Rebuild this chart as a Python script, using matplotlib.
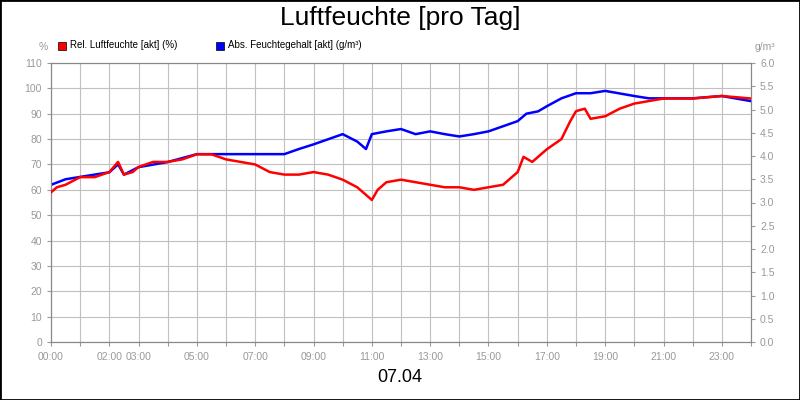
import matplotlib
matplotlib.use("Agg")
import matplotlib.pyplot as plt
from matplotlib.patches import Rectangle
plt.rcParams['font.family'] = ['Liberation Sans', 'DejaVu Sans']

rel_t = [0,0.2,0.5,1,1.5,2,2.3,2.5,2.8,3,3.5,4,4.5,5,5.5,6,6.5,7,7.5,8,8.5,9,9.5,10,10.5,10.8,11,11.2,11.5,12,12.5,13,13.5,14,14.5,15,15.5,16,16.2,16.5,17,17.5,17.8,18,18.3,18.5,19,19.5,20,20.5,21,22,23,24]
rel_v = [59,61,62,65,65,67,71,66,67,69,71,71,72,74,74,72,71,70,67,66,66,67,66,64,61,58,56,60,63,64,63,62,61,61,60,61,62,67,73,71,76,80,87,91,92,88,89,92,94,95,96,96,97,96]
abs_t = [0,0.5,1,2,2.3,2.5,3,4,5,6,7,8,8.5,9,9.5,10,10.5,10.8,11,11.5,12,12.5,13,13.5,14,14.5,15,15.5,16,16.3,16.7,17,17.5,18,18.5,19,20,20.5,21,22,23,24]
abs_v = [3.38,3.5,3.55,3.65,3.82,3.6,3.76,3.87,4.04,4.04,4.04,4.04,4.15,4.25,4.36,4.47,4.31,4.15,4.47,4.53,4.58,4.47,4.53,4.47,4.42,4.47,4.53,4.64,4.75,4.91,4.96,5.07,5.24,5.35,5.35,5.4,5.29,5.24,5.24,5.24,5.29,5.18]
xtick_pos = [0,2,3,5,7,9,11,13,15,17,19,21,23]
xtick_lab = ["00:00","02:00","03:00","05:00","07:00","09:00","11:00","13:00","15:00","17:00","19:00","21:00","23:00"]

fig = plt.figure(figsize=(8,4), dpi=100)
fig.patches.append(Rectangle((0,0),1,1,transform=fig.transFigure,fill=False,edgecolor='black',lw=2))
ax = fig.add_axes([51/800, 58/400, 700/800, 279/400])
ax.set_xlim(0,24); ax.set_ylim(0,110)
ax.set_yticks(range(0,111,10))
ax.set_xticks(range(0,25))
ax.set_xticklabels([""]*25)
for p,l in zip(xtick_pos, xtick_lab):
    ax.text(p, -4, l, ha='center', va='top', fontsize=7.5, color='#999999')
ax.grid(True, color='#c0c0c0', lw=0.8)
ax.tick_params(colors='#999999', labelsize=7.5, length=3)
ax2 = ax.twinx()
ax2.plot(abs_t, abs_v, color='#0000ff', lw=1.8)
ax2.set_ylim(0,6); ax2.set_yticks([i*0.5 for i in range(13)])
ax2.set_yticklabels([f"{i*0.5:.1f}" for i in range(13)])
ax2.tick_params(colors='#999999', labelsize=7.5, length=3)
ax3 = ax.twinx()
ax3.set_ylim(0,110); ax3.axis('off')
ax3.plot(rel_t, rel_v, color='#ff0000', lw=1.8)
for a in (ax, ax2):
    for s in a.spines.values(): s.set_color('#888888')
fig.text(0.5, 0.955, "Luftfeuchte [pro Tag]", ha='center', va='center', fontsize=19)
fig.text(0.5, 0.055, "07.04", ha='center', va='center', fontsize=13)
fig.text(43/800, 0.882, "%", ha='center', va='center', fontsize=7.5, color='#999999')
fig.text(765/800, 0.882, "g/m³", ha='center', va='center', fontsize=7.5, color='#999999')
fig.patches.append(Rectangle((58/800, 0.875), 8/800, 8/400, transform=fig.transFigure, facecolor='red', edgecolor='black', lw=0.5))
fig.text(70/800, 0.887, "Rel. Luftfeuchte [akt] (%)", va='center', fontsize=7)
fig.patches.append(Rectangle((216/800, 0.875), 8/800, 8/400, transform=fig.transFigure, facecolor='blue', edgecolor='black', lw=0.5))
fig.text(228/800, 0.887, "Abs. Feuchtegehalt [akt] (g/m³)", va='center', fontsize=7)
fig.savefig("out.png", dpi=100)
